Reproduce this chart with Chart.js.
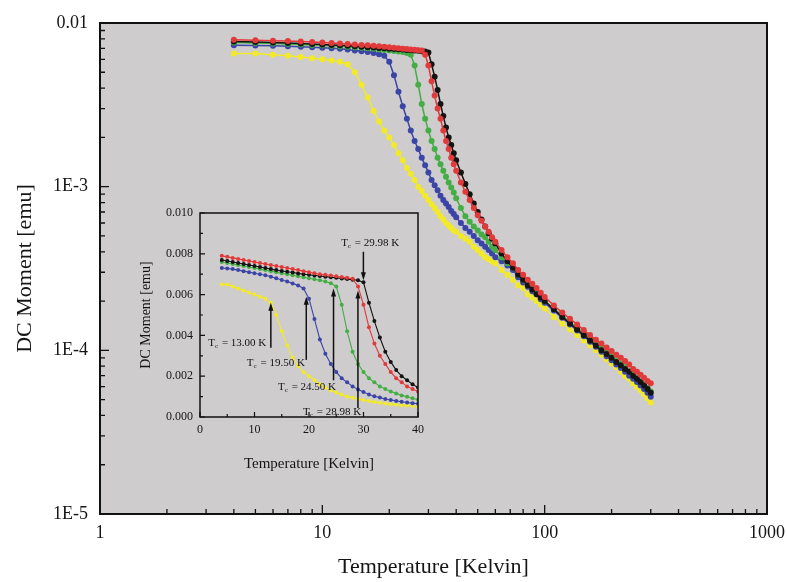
<!DOCTYPE html>
<html>
<head>
<meta charset="utf-8">
<script src="https://cdn.jsdelivr.net/npm/chart.js@4.4.0/dist/chart.umd.min.js"></script>
<style>
  html, body { margin: 0; padding: 0; background: #fff; }
  #wrap { position: relative; width: 787px; height: 582px; }
  #mainChart { position: absolute; left: 0; top: 0; }
  #insetChart { position: absolute; left: 130px; top: 195px; }
</style>
</head>
<body>
<div id="wrap">
  <canvas id="mainChart" width="787" height="582"></canvas>
  <canvas id="insetChart" width="300" height="285"></canvas>
</div>
<script>
// temperatures (K) shared by every sample
const temps = [4, 5, 6, 7, 8, 9, 10, 11, 12, 13, 14, 15, 16, 17, 18, 19, 20, 21, 22, 23, 24, 25, 26, 27, 28, 29, 30,
  31, 32, 33, 34, 35, 36, 37, 38, 39, 40,
  42, 44, 46, 48, 50, 52, 54, 56, 58, 60,
  64, 68, 72, 76, 80, 84, 88, 92, 96, 100,
  110, 120, 130, 140, 150, 160, 170, 180, 190, 200, 210, 220, 230, 240, 250, 260, 270, 280, 290, 300];

// DC moment (emu)
const momentBlack = [0.0077, 0.00765, 0.0076, 0.00755, 0.0075, 0.00745, 0.0074, 0.00735, 0.0073, 0.00725, 0.0072, 0.00716, 0.00712,
  0.00708, 0.00704, 0.007, 0.00697, 0.00694, 0.00691, 0.00688, 0.00685, 0.00682, 0.00679, 0.00676, 0.00673, 0.0067, 0.0066,
  0.0056, 0.0047, 0.0039, 0.0032, 0.0027, 0.0023, 0.002, 0.0018, 0.0016, 0.00145,
  0.00122, 0.00104, 0.0009, 0.00079, 0.0007, 0.00063, 0.00057, 0.00052, 0.00048, 0.00045,
  0.00039, 0.00035, 0.00032, 0.00029, 0.00027, 0.00025, 0.000235, 0.00022, 0.00021, 0.0002,
  0.000178, 0.00016, 0.000146, 0.000134, 0.000124, 0.000115, 0.000107, 0.0001, 0.000095, 0.00009,
  0.000085, 0.000081, 0.000077, 0.000074, 0.00007, 0.000067, 0.000064, 0.000061, 0.000058, 0.000055];

const momentRed = [0.0079, 0.00785, 0.0078, 0.00775, 0.0077, 0.00765, 0.0076, 0.00755, 0.0075, 0.00745, 0.0074, 0.00735, 0.0073,
  0.00725, 0.0072, 0.00715, 0.0071, 0.00705, 0.007, 0.00697, 0.00694, 0.0069, 0.00686, 0.00682, 0.00678, 0.0064, 0.0055,
  0.0044, 0.0036, 0.003, 0.0026, 0.0022, 0.0019, 0.0017, 0.0015, 0.00137, 0.00125,
  0.00106, 0.00093, 0.00083, 0.00074, 0.00067, 0.00062, 0.00057, 0.00053, 0.00049, 0.00046,
  0.00041, 0.00037, 0.00034, 0.00031, 0.00029, 0.00027, 0.000255, 0.00024, 0.000225, 0.000212,
  0.000188, 0.00017, 0.000156, 0.000144, 0.000133, 0.000124, 0.000116, 0.00011, 0.000104, 0.000099,
  0.000094, 0.00009, 0.000086, 0.000082, 0.000077, 0.000074, 0.000071, 0.000068, 0.000065, 0.000063];

const momentGreen = [0.0076, 0.00755, 0.0075, 0.00745, 0.0074, 0.00735, 0.0073, 0.00725, 0.0072, 0.00715, 0.0071, 0.00705, 0.007,
  0.00695, 0.0069, 0.00685, 0.0068, 0.00675, 0.0067, 0.00664, 0.00656, 0.0064, 0.0055, 0.0042, 0.0032, 0.0026, 0.0022,
  0.0019, 0.0017, 0.0015, 0.00137, 0.00125, 0.00115, 0.00106, 0.00099, 0.00092, 0.00085,
  0.00074, 0.00066, 0.00061, 0.00057, 0.00054, 0.00051, 0.00049, 0.00046, 0.00043, 0.00041,
  0.00037, 0.00034, 0.00032, 0.00029, 0.00027, 0.000255, 0.00024, 0.000225, 0.000213, 0.0002,
  0.00018, 0.000163, 0.000149, 0.000137, 0.000127, 0.000118, 0.00011, 0.000103, 0.000097, 0.000092,
  0.000087, 0.000083, 0.000079, 0.000075, 0.000072, 0.000068, 0.000065, 0.000062, 0.000059, 0.000056];

const momentBlue = [0.0073, 0.00728, 0.00725, 0.0072, 0.00715, 0.0071, 0.00705, 0.007, 0.00695, 0.00688, 0.0068, 0.00672, 0.00664,
  0.00655, 0.00645, 0.0063, 0.0058, 0.0048, 0.0038, 0.0031, 0.0026, 0.0022, 0.0019, 0.0017, 0.0015, 0.00135, 0.00122,
  0.0011, 0.00102, 0.00095, 0.00088, 0.00083, 0.00079, 0.00075, 0.00071, 0.00068, 0.00065,
  0.0006, 0.00056, 0.00053, 0.0005, 0.00047, 0.00045, 0.00043, 0.00041, 0.00039, 0.00037,
  0.00035, 0.00033, 0.00031, 0.00028, 0.00026, 0.000245, 0.00023, 0.00022, 0.000205, 0.000195,
  0.000175, 0.000158, 0.000144, 0.000132, 0.000122, 0.000113, 0.000105, 0.000098, 0.000092, 0.000087,
  0.000082, 0.000078, 0.000074, 0.00007, 0.000067, 0.000064, 0.000061, 0.000058, 0.000055, 0.000052];

const momentYellow = [0.0065, 0.0065, 0.0064, 0.0063, 0.0062, 0.0061, 0.006, 0.0059, 0.0058, 0.0056, 0.005, 0.0042, 0.0035,
  0.0029, 0.0025, 0.0022, 0.002, 0.0018, 0.0016, 0.00145, 0.0013, 0.0012, 0.0011, 0.001, 0.00094, 0.00088, 0.00083,
  0.00078, 0.00074, 0.0007, 0.00066, 0.00063, 0.0006, 0.00058, 0.00056, 0.00054, 0.00053,
  0.0005, 0.00048, 0.00046, 0.00043, 0.00041, 0.00039, 0.00037, 0.00036, 0.00035, 0.00034,
  0.00031, 0.00029, 0.00027, 0.00025, 0.00024, 0.00022, 0.00021, 0.0002, 0.00019, 0.00018,
  0.00016, 0.000146, 0.000134, 0.000124, 0.000115, 0.000107, 0.0001, 0.000094, 0.000088, 0.000083,
  0.000079, 0.000074, 0.00007, 0.000067, 0.000063, 0.00006, 0.000057, 0.000054, 0.000051, 0.000048];

// transition temperatures marked in the inset
const tcValues = [13.00, 19.50, 24.50, 28.98, 29.98];
const tcLabels = ['= 13.00 K', '= 19.50 K', '= 24.50 K', '= 28.98 K', '= 29.98 K'];

// tick values / labels
const mainXTicks = [1, 10, 100, 1000];
const mainXTickLabels = ['1', '10', '100', '1000'];
const mainYTicks = [1e-5, 1e-4, 1e-3, 1e-2];
const mainYTickLabels = ['1E-5', '1E-4', '1E-3', '0.01'];
const insetXTicks = [0, 10, 20, 30, 40];
const insetXTickLabels = ['0', '10', '20', '30', '40'];
const insetYTicks = [0, 0.002, 0.004, 0.006, 0.008, 0.010];
const insetYTickLabels = ['0.000', '0.002', '0.004', '0.006', '0.008', '0.010'];

Chart.defaults.font.family = '"Liberation Serif", serif';
Chart.defaults.color = '#151515';

const series = [
  { name: 'red', values: momentRed, color: '#e23a3a' },
  { name: 'black', values: momentBlack, color: '#141414' },
  { name: 'green', values: momentGreen, color: '#45ad45' },
  { name: 'blue', values: momentBlue, color: '#3b45a6' },
  { name: 'yellow', values: momentYellow, color: '#f2ea28' },
];

function makeDatasets(radius, width) {
  return series.map(s => ({
    label: s.name,
    data: temps.map((t, i) => ({ x: t, y: s.values[i] })),
    borderColor: s.color,
    backgroundColor: s.color,
    pointBackgroundColor: s.color,
    pointBorderColor: s.color,
    pointBorderWidth: 0,
    pointRadius: radius,
    borderWidth: width,
    tension: 0,
  }));
}

function fixSize(size) {
  return function (scale) {
    if (scale.isHorizontal()) scale.height = size; else scale.width = size;
    scale.paddingLeft = 0; scale.paddingRight = 0; scale.paddingTop = 0; scale.paddingBottom = 0;
  };
}

function setTicks(values) {
  return function (scale) { scale.ticks = values.map(v => ({ value: v })); };
}

function logMinors(lo, hi) {
  const out = [];
  for (let d = lo; d < hi; d *= 10) for (let k = 2; k <= 9; k++) out.push(d * k);
  return out;
}

// background, frame and inward tick marks
function framePlugin(opts) {
  return {
    id: 'frame',
    beforeDraw(chart) {
      if (!opts.fill) return;
      const a = chart.chartArea, ctx = chart.ctx;
      ctx.save();
      ctx.fillStyle = opts.fill;
      ctx.fillRect(a.left, a.top, a.right - a.left, a.bottom - a.top);
      ctx.restore();
    },
    afterDraw(chart) {
      const a = chart.chartArea, ctx = chart.ctx;
      const xs = chart.scales.x, ys = chart.scales.y;
      ctx.save();
      ctx.strokeStyle = '#111';
      ctx.lineWidth = opts.tickWidth;
      ctx.beginPath();
      opts.xMajor.forEach(v => { const p = xs.getPixelForValue(v); ctx.moveTo(p, a.bottom); ctx.lineTo(p, a.bottom - opts.major); });
      opts.xMinor.forEach(v => { const p = xs.getPixelForValue(v); ctx.moveTo(p, a.bottom); ctx.lineTo(p, a.bottom - opts.minor); });
      opts.yMajor.forEach(v => { const p = ys.getPixelForValue(v); ctx.moveTo(a.left, p); ctx.lineTo(a.left + opts.major, p); });
      opts.yMinor.forEach(v => { const p = ys.getPixelForValue(v); ctx.moveTo(a.left, p); ctx.lineTo(a.left + opts.minor, p); });
      ctx.stroke();
      ctx.lineWidth = opts.frameWidth;
      ctx.strokeRect(a.left, a.top, a.right - a.left, a.bottom - a.top);
      ctx.restore();
    }
  };
}

const mainChart = new Chart(document.getElementById('mainChart'), {
  type: 'line',
  data: { datasets: makeDatasets(3, 1.5) },
  options: {
    responsive: false,
    animation: false,
    devicePixelRatio: 1,
    layout: { padding: { top: 23, right: 20, left: 0, bottom: 0 } },
    plugins: { legend: { display: false }, tooltip: { enabled: false } },
    scales: {
      x: {
        type: 'logarithmic', min: 1, max: 1000,
        afterBuildTicks: setTicks(mainXTicks),
        afterFit: fixSize(68),
        grid: { display: false, drawTicks: false },
        border: { display: false },
        ticks: { callback: (v, i) => mainXTickLabels[i], font: { size: 18 }, padding: 8, maxRotation: 0, autoSkip: false },
        title: { display: true, text: 'Temperature [Kelvin]', font: { size: 22 }, padding: { top: 0, bottom: 2 } },
      },
      y: {
        type: 'logarithmic', min: 1e-5, max: 1e-2,
        afterBuildTicks: setTicks(mainYTicks),
        afterFit: fixSize(100),
        grid: { display: false, drawTicks: false },
        border: { display: false },
        ticks: { callback: (v, i) => mainYTickLabels[i], font: { size: 18 }, padding: 12, autoSkip: false },
        title: { display: true, text: 'DC Moment [emu]', font: { size: 22 }, padding: { top: 12, bottom: 0 } },
      },
    },
  },
  plugins: [framePlugin({
    fill: 'rgb(206,204,205)', frameWidth: 2, tickWidth: 1.3, major: 9, minor: 5,
    xMajor: mainXTicks, xMinor: logMinors(1, 1000), yMajor: mainYTicks, yMinor: logMinors(1e-5, 1e-2),
  })],
});

// arrows and Tc labels in the inset (anchors in data units)
const tcNotes = [
  { from: 0.0034, to: 0.0056, labelT: 1.5, labelM: 0.0036 },
  { from: 0.0028, to: 0.0059, labelT: 8.6, labelM: 0.00265 },
  { from: 0.0018, to: 0.0063, labelT: 14.3, labelM: 0.00147 },
  { from: 0.00044, to: 0.0062, labelT: 18.9, labelM: 0.00025 },
  { from: 0.0081, to: 0.0067, labelT: 25.9, labelM: 0.0085 },
];

const tcPlugin = {
  id: 'tcNotes',
  afterDatasetsDraw(chart) {
    const ctx = chart.ctx, xs = chart.scales.x, ys = chart.scales.y;
    ctx.save();
    ctx.strokeStyle = '#111';
    ctx.fillStyle = '#111';
    ctx.lineWidth = 1.5;
    tcNotes.forEach((n, i) => {
      const x = xs.getPixelForValue(tcValues[i]);
      const y0 = ys.getPixelForValue(n.from), y1 = ys.getPixelForValue(n.to);
      const dir = y1 < y0 ? 1 : -1;
      ctx.beginPath();
      ctx.moveTo(x, y0);
      ctx.lineTo(x, y1 + dir * 6);
      ctx.stroke();
      ctx.beginPath();
      ctx.moveTo(x, y1);
      ctx.lineTo(x - 2.5, y1 + dir * 8);
      ctx.lineTo(x + 2.5, y1 + dir * 8);
      ctx.closePath();
      ctx.fill();
      const lx = xs.getPixelForValue(n.labelT), ly = ys.getPixelForValue(n.labelM);
      ctx.textBaseline = 'middle';
      ctx.textAlign = 'left';
      ctx.font = '11px "Liberation Serif"';
      ctx.fillText('T', lx, ly);
      const w = ctx.measureText('T').width;
      ctx.font = '7px "Liberation Serif"';
      ctx.fillText('c', lx + w, ly + 3);
      ctx.font = '11px "Liberation Serif"';
      ctx.fillText(tcLabels[i], lx + w + 7, ly);
    });
    ctx.restore();
  }
};

const insetChart = new Chart(document.getElementById('insetChart'), {
  type: 'line',
  data: { datasets: makeDatasets(2, 1.1) },
  options: {
    responsive: false,
    animation: false,
    devicePixelRatio: 1,
    layout: { padding: { top: 18, right: 12, left: 0, bottom: 0 } },
    plugins: { legend: { display: false }, tooltip: { enabled: false } },
    scales: {
      x: {
        type: 'linear', min: 0, max: 40,
        afterBuildTicks: setTicks(insetXTicks),
        afterFit: fixSize(63),
        grid: { display: false, drawTicks: false },
        border: { display: false },
        ticks: { callback: (v, i) => insetXTickLabels[i], font: { size: 12 }, padding: 6, maxRotation: 0, autoSkip: false },
        title: { display: true, text: 'Temperature [Kelvin]', font: { size: 15 }, padding: { top: 0, bottom: 7 } },
      },
      y: {
        type: 'linear', min: 0, max: 0.010,
        afterBuildTicks: setTicks(insetYTicks),
        afterFit: fixSize(70),
        grid: { display: false, drawTicks: false },
        border: { display: false },
        ticks: { callback: (v, i) => insetYTickLabels[i], font: { size: 12 }, padding: 7, autoSkip: false },
        title: { display: true, text: 'DC Moment [emu]', font: { size: 14 }, padding: { top: 8, bottom: 0 } },
      },
    },
  },
  plugins: [framePlugin({
    fill: null, frameWidth: 1.5, tickWidth: 1.2, major: 5, minor: 3,
    xMajor: insetXTicks, xMinor: [5, 15, 25, 35], yMajor: insetYTicks, yMinor: [0.001, 0.003, 0.005, 0.007, 0.009],
  }), tcPlugin],
});
</script>
</body>
</html>
